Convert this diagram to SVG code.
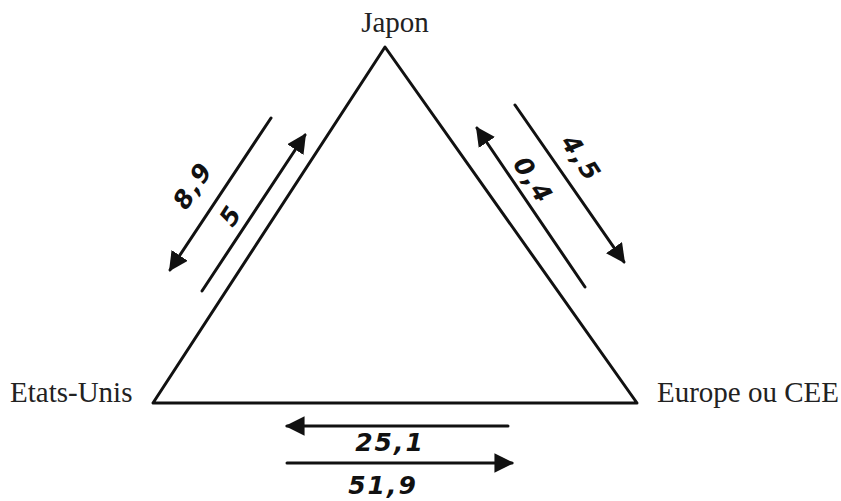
<svg xmlns="http://www.w3.org/2000/svg" width="841" height="501" viewBox="0 0 841 501">
<style>
.lbl{font-family:"Liberation Serif","Times New Roman",serif;font-size:29px;fill:#222}
.hw{font-family:"DejaVu Sans",sans-serif;font-size:25px;font-style:italic;fill:#111;font-weight:bold;letter-spacing:2px}
.ln{stroke:#111;stroke-width:3;fill:none;stroke-linecap:round}
</style>
<defs>
<marker id="ah" viewBox="0 0 10 10" refX="9" refY="5" markerWidth="6.5" markerHeight="6.5" markerUnits="strokeWidth" orient="auto">
<path d="M0,0 L10,5 L0,10 z" fill="#111"/>
</marker>
</defs>
<rect width="841" height="501" fill="#fff"/>
<g id="triangle">
<path d="M385,47 L153,403 L637,403 Z" class="ln" stroke-linejoin="round"/>
</g>
<g id="japon"><text class="lbl" x="395" y="32" text-anchor="middle">Japon</text></g>
<g id="etats-unis"><text class="lbl" x="10" y="402">Etats-Unis</text></g>
<g id="europe"><text class="lbl" x="657" y="402">Europe ou CEE</text></g>
<g id="connectors">
<line class="ln" x1="271" y1="118" x2="170" y2="270" marker-end="url(#ah)"/>
<line class="ln" x1="202" y1="291" x2="305" y2="135" marker-end="url(#ah)"/>
<line class="ln" x1="585" y1="287" x2="477" y2="128" marker-end="url(#ah)"/>
<line class="ln" x1="515" y1="105" x2="624" y2="262" marker-end="url(#ah)"/>
<line class="ln" x1="508" y1="426" x2="287" y2="426" marker-end="url(#ah)"/>
<line class="ln" x1="287" y1="463" x2="512" y2="463" marker-end="url(#ah)"/>
</g>
<g id="labels">
<text class="hw" text-anchor="middle" transform="translate(200,190) rotate(-57)">8,9</text>
<text class="hw" text-anchor="middle" transform="translate(238,220) rotate(-57)">5</text>
<text class="hw" text-anchor="middle" transform="translate(574,163) rotate(57)">4,5</text>
<text class="hw" text-anchor="middle" transform="translate(526,185) rotate(57)">0,4</text>
<text class="hw" text-anchor="middle" x="390" y="451">25,1</text>
<text class="hw" text-anchor="middle" x="383" y="494">51,9</text>
</g>
</svg>
